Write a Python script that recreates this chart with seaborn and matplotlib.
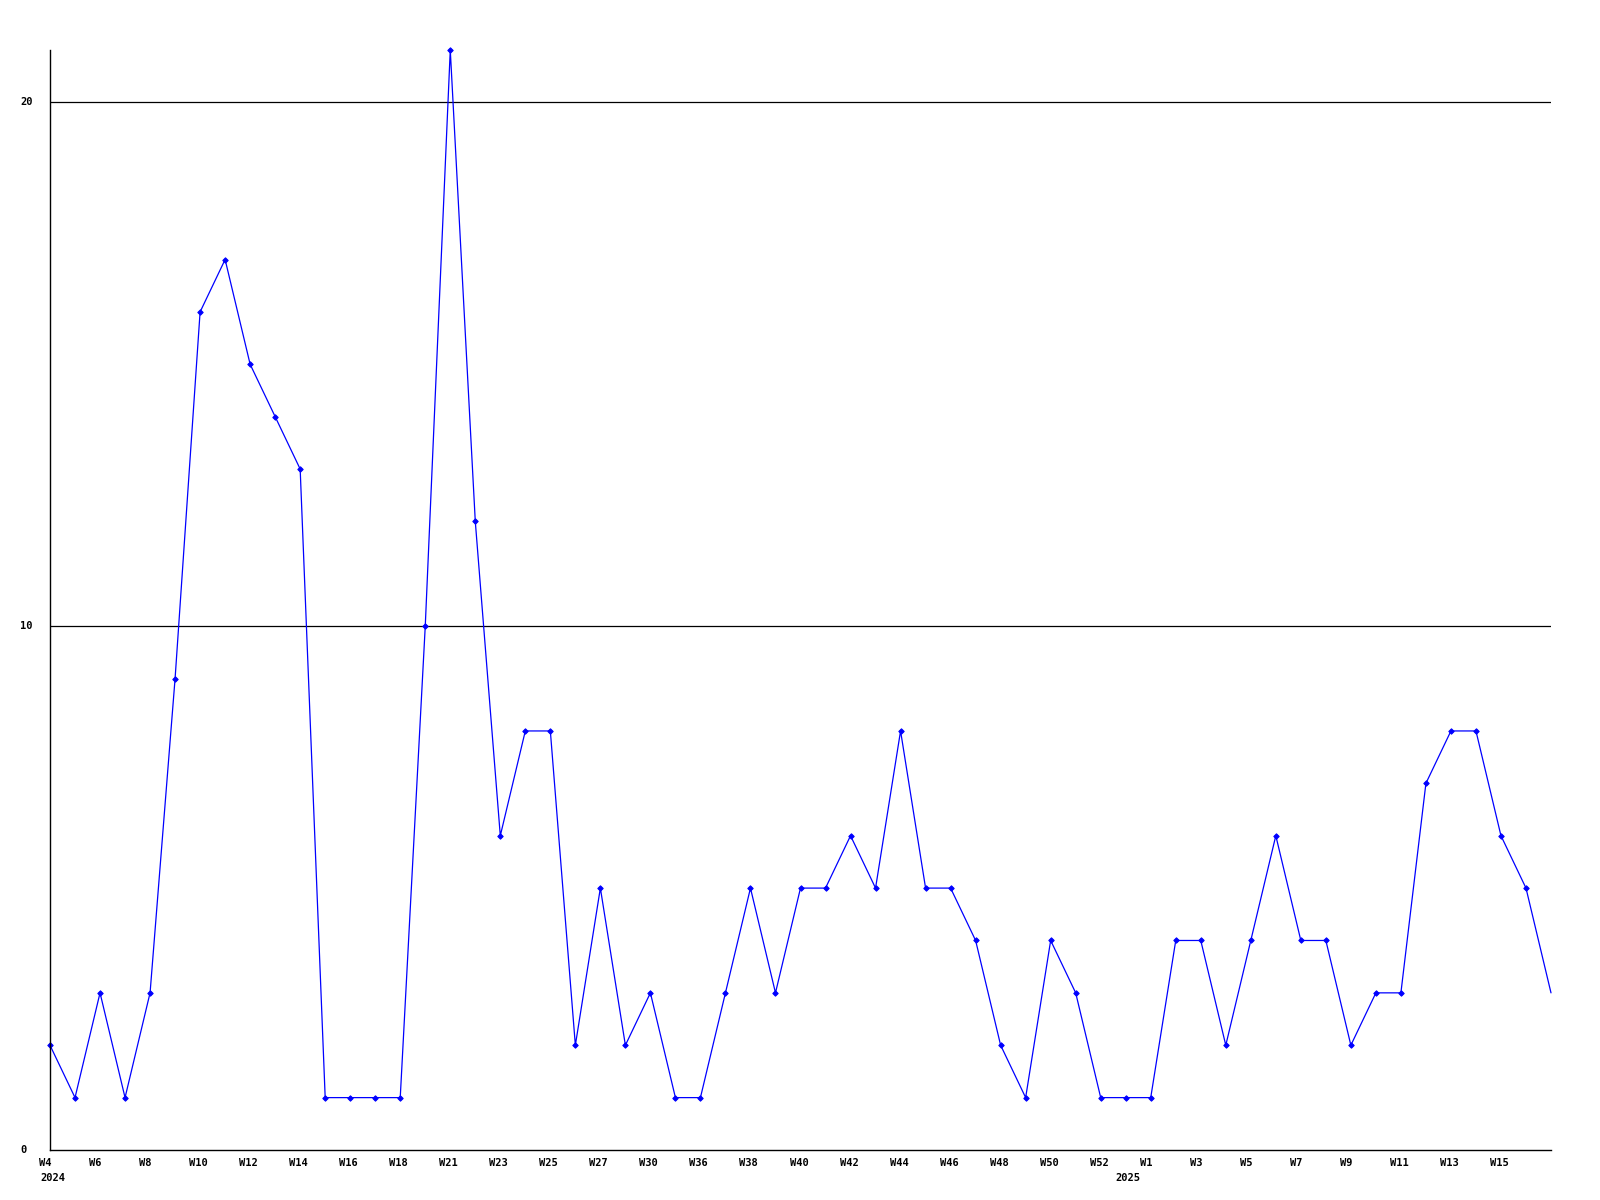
import matplotlib
matplotlib.use("Agg")
import matplotlib.pyplot as plt
import matplotlib.transforms as mtransforms
import seaborn as sns
import pandas as pd

# ---- data ----
values = [2, 1, 3, 1, 3, 9, 16, 17, 15, 14, 13, 1, 1, 1, 1, 10, 21, 12, 6, 8,
          8, 2, 5, 2, 3, 1, 1, 3, 5, 3, 5, 5, 6, 5, 8, 5, 5, 4, 2, 1,
          4, 3, 1, 1, 1, 4, 4, 2, 4, 6, 4, 4, 2, 3, 3, 7, 8, 8, 6, 5, 3]
tick_labels = ["W4", "W6", "W8", "W10", "W12", "W14", "W16", "W18", "W21", "W23",
               "W25", "W27", "W30", "W36", "W38", "W40", "W42", "W44", "W46", "W48",
               "W50", "W52", "W1", "W3", "W5", "W7", "W9", "W11", "W13", "W15"]
year_labels = ["2024", "2025"]
year_positions = [0, 43]
y_ticks = [0, 10, 20]

df = pd.DataFrame({"idx": range(len(values)), "value": values})

sns.set_theme(style="white")
plt.rcParams["font.family"] = ["DejaVu Sans Mono", "DejaVu Sans"]

fig = plt.figure(figsize=(16, 12), dpi=100)
W, H = 1600, 1200
ax = fig.add_axes([50 / W, (H - 1150) / H, (1551 - 50) / W, 1100 / H])

sns.lineplot(data=df, x="idx", y="value", ax=ax, color="#0000FF", linewidth=0.9,
             marker="D", markersize=2.8, markeredgewidth=0.7, markeredgecolor="#0000FF",
             markevery=list(range(len(values) - 1)), clip_on=False)

ax.set_xlim(0, len(values) - 1)
ax.set_ylim(0, 21)
for s in ["top", "right"]:
    ax.spines[s].set_visible(False)
for s in ["left", "bottom"]:
    ax.spines[s].set_color("black")
    ax.spines[s].set_linewidth(1.0)

for yv in y_ticks[1:]:
    ax.axhline(yv, color="black", linewidth=0.9, zorder=1)

ax.set_xticks([])
ax.set_yticks([])
ax.set_xlabel("")
ax.set_ylabel("")

font = dict(fontsize=7.5, fontweight="bold", color="black")
blend_x = mtransforms.blended_transform_factory(ax.transData, ax.transAxes)
for i, lab in enumerate(tick_labels):
    ax.text(i * 2, 0, lab, transform=blend_x + mtransforms.ScaledTranslation(-11 / 100, -8 / 100, fig.dpi_scale_trans),
            ha="left", va="top", **font)
for pos, lab in zip(year_positions, year_labels):
    ax.text(pos, 0, lab, transform=blend_x + mtransforms.ScaledTranslation(-10 / 100, -23 / 100, fig.dpi_scale_trans),
            ha="left", va="top", **font)

blend_y = mtransforms.blended_transform_factory(ax.transAxes, ax.transData)
for yv in y_ticks:
    ax.text(0, yv, str(yv), transform=blend_y + mtransforms.ScaledTranslation(-30 / 100, 0, fig.dpi_scale_trans),
            ha="left", va="center", **font)

fig.savefig("out.png", dpi=100, facecolor="white")
